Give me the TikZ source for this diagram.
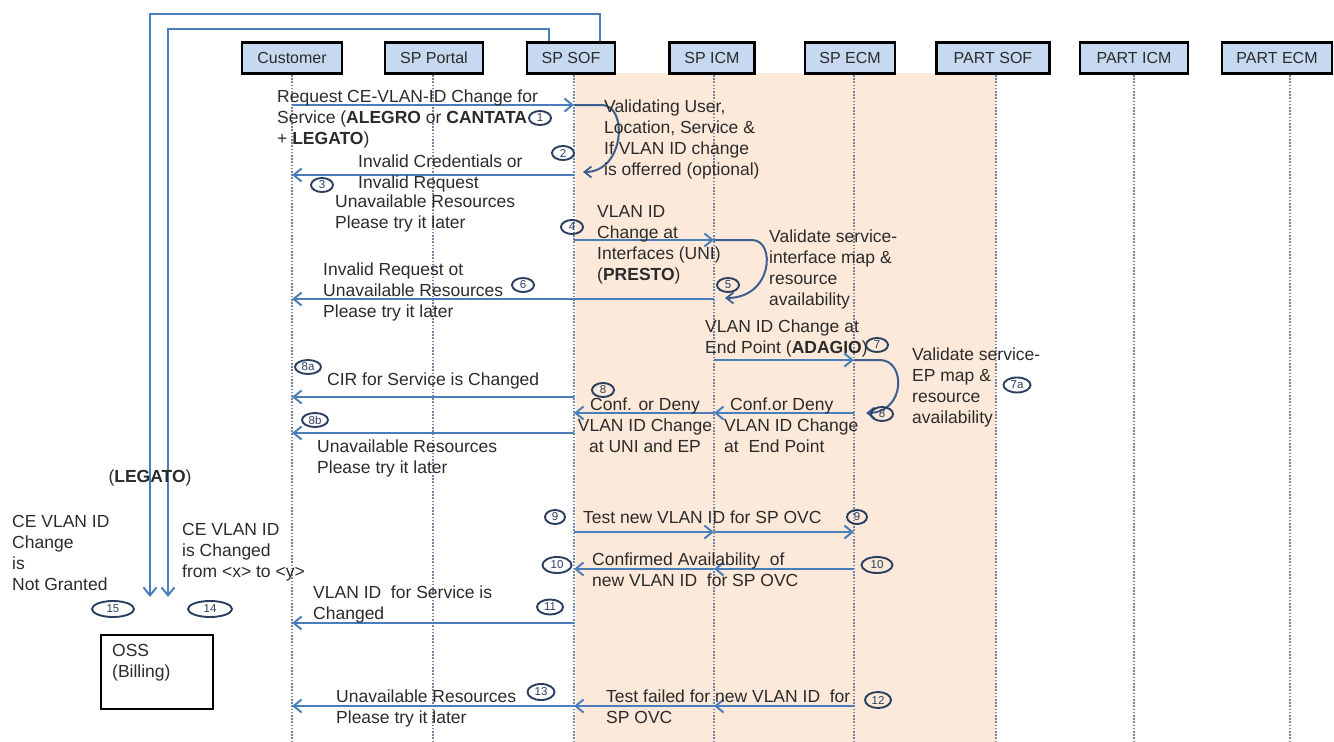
\documentclass[tikz,border=0pt]{standalone}
\usepackage{fontspec}
\setmainfont{Liberation Sans}
\usetikzlibrary{arrows.meta,shapes.geometric}

\definecolor{msgblue}{HTML}{4A7EBB}
\definecolor{loopblue}{HTML}{3D5F8F}
\definecolor{peach}{HTML}{FDE9D9}
\definecolor{boxblue}{HTML}{C6D9F1}
\definecolor{lifegray}{HTML}{7484A0}
\definecolor{ovalink}{HTML}{2A3F5F}
\definecolor{txt}{HTML}{2B2B2B}

\tikzset{
  actor/.style={draw=black, line width=2.8pt, fill=boxblue, minimum height=31pt,
    inner sep=0pt, font=\fontsize{16}{19}\selectfont, text=txt},
  lifeline/.style={draw=lifegray, line width=1.6pt, dash pattern=on 1.6pt off 1.6pt},
  msg/.style={draw=msgblue, line width=2.2pt,
    -{Straight Barb[length=8pt,width=13pt,line width=2pt]}},
  selfloop/.style={draw=loopblue, line width=2pt,
    -{Straight Barb[length=7pt,width=11pt,line width=1.8pt]}},
  lbl/.style={inner sep=0pt, anchor=north west, align=left,
    font=\fontsize{17.5}{21}\selectfont, text=txt},
  tag/.style={ellipse, draw=ovalink, line width=1.9pt, inner sep=0pt,
    font=\fontsize{11.5}{13}\selectfont, text=ovalink},
}

\begin{document}
\begin{tikzpicture}[x=1pt,y=-1pt]
\useasboundingbox (0,0) rectangle (1334,742);

% shaded SP domain
\fill[peach] (576,73) rectangle (996,742);

% participants
\node[actor, minimum width=100pt] (cust)   at (292,58)  {Customer};
\node[actor, minimum width=98pt]  (portal) at (434,58)  {SP Portal};
\node[actor, minimum width=88pt]  (sof)    at (571,58)  {SP SOF};
\node[actor, minimum width=85pt]  (icm)    at (712,58)  {SP ICM};
\node[actor, minimum width=90pt]  (ecm)    at (850,58)  {SP ECM};
\node[actor, minimum width=113pt] (psof)   at (993,58)  {PART SOF};
\node[actor, minimum width=108pt] (picm)   at (1134,58) {PART ICM};
\node[actor, minimum width=110pt] (pecm)   at (1277,58) {PART ECM};

% lifeline heads and page bottom
\coordinate (lcust)   at (292,75);
\coordinate (lportal) at (433,75);
\coordinate (lsof)    at (574,75);
\coordinate (licm)    at (714,75);
\coordinate (lecm)    at (854,75);
\coordinate (lpsof)   at (996,75);
\coordinate (lpicm)   at (1134,75);
\coordinate (lpecm)   at (1290,75);
\coordinate (bot)     at (0,742);

\foreach \l in {lcust,lportal,licm,lecm,lpicm,lpecm}
  \draw[lifeline] (\l) -- (\l |- bot);
\draw[lifeline, line width=2.2pt] (lsof) -- (lsof |- bot);
\draw[lifeline, line width=2.2pt] (lpsof) -- (lpsof |- bot);

% message rows
\coordinate (r1)  at (0,105);
\coordinate (r3)  at (0,175);
\coordinate (r4)  at (0,240);
\coordinate (r6)  at (0,299);
\coordinate (r7)  at (0,360);
\coordinate (r8a) at (0,397);
\coordinate (r8)  at (0,413);
\coordinate (r8b) at (0,433);
\coordinate (r9)  at (0,532);
\coordinate (r10) at (0,569);
\coordinate (r11) at (0,623);
\coordinate (r12) at (0,706);

% messages
\draw[msg] (lcust |- r1) -- (lsof |- r1);
\draw[msg] (lsof |- r3) -- (lcust |- r3);
\draw[msg] (lsof |- r4) -- (licm |- r4);
\draw[msg] (licm |- r6) -- (lcust |- r6);
\draw[msg] (licm |- r7) -- (lecm |- r7);
\draw[msg] (lsof |- r8a) -- (lcust |- r8a);
\draw[msg] (lecm |- r8) -- (licm |- r8);
\draw[msg] (licm |- r8) -- (lsof |- r8);
\draw[msg] (lsof |- r8b) -- (lcust |- r8b);
\draw[msg] (lsof |- r9) -- (licm |- r9);
\draw[msg] (licm |- r9) -- (lecm |- r9);
\draw[msg] (lecm |- r10) -- (licm |- r10);
\draw[msg] (licm |- r10) -- (lsof |- r10);
\draw[msg] (lsof |- r11) -- (lcust |- r11);
\draw[msg] (lecm |- r12) -- (licm |- r12);
\draw[msg] (licm |- r12) -- (lsof |- r12);
\draw[msg] (lsof |- r12) -- (lcust |- r12);

% self checks
\coordinate (l2end) at (583,172);
\coordinate (l5end) at (725,298);
\coordinate (l7end) at (866,413);
\draw[selfloop] (lsof |- r1) -- ++(28,0) .. controls +(26,0) and +(42,0) .. (l2end);
\draw[selfloop] (licm |- r4) -- ++(38,0) .. controls +(24,0) and +(48,0) .. (l5end);
\draw[selfloop] (lecm |- r7) -- ++(26,0) .. controls +(26,0) and +(40,0) .. (l7end);

% billing notifications
\coordinate (k1) at (600,14);
\coordinate (k2) at (150,14);
\coordinate (k3) at (549,29);
\coordinate (k4) at (168,29);
\coordinate (n15) at (150,597);
\coordinate (n14) at (168,597);
\draw[msg, line width=2pt] (sof.north -| k1) -- (k1) -- (k2) -- (n15);
\draw[msg, line width=2pt] (sof.north -| k3) -- (k3) -- (k4) -- (n14);

\node[draw=black, line width=2pt, minimum width=112pt, minimum height=74pt, inner sep=0pt] (oss) at (157,672) {};
\node[lbl] (osstxt) at ([xshift=12pt,yshift=-10pt]oss.north west) {OSS\\(Billing)};

% texts
\node[lbl] (t1) at (277,90) {Request CE-VLAN-ID Change for\\Service (\textbf{ALEGRO} or \textbf{CANTATA}\\+ \textbf{LEGATO})};
\node[lbl] (t2) at (604,100) {Validating User,\\Location, Service \&\\If VLAN ID change\\is offerred (optional)};
\node[lbl] (t3a) at (358,155) {Invalid Credentials or\\Invalid Request};
\node[lbl] (t3b) at (335,195) {Unavailable Resources\\Please try it later};
\node[lbl] (t4) at (597,205) {VLAN ID\\Change at\\Interfaces (UNI)\\(\textbf{PRESTO})};
\node[lbl] (t5) at (769,230) {Validate service-\\interface map \&\\resource\\availability};
\node[lbl] (t6) at (323,263) {Invalid Request ot\\Unavailable Resources\\Please try it later};
\node[lbl] (t7) at (705,320) {VLAN ID Change at\\End Point (\textbf{ADAGIO})};
\node[lbl] (t7a) at (912,348) {Validate service-\\EP map \&\\resource\\availability};
\node[lbl] (t8a) at (327,373) {CIR for Service is Changed};
\node[lbl, align=center, anchor=north] (t8l) at (645,398) {Conf. or Deny\\VLAN ID Change\\at UNI and EP};
\node[lbl] (t8r) at (724,398) {\hspace*{6pt}Conf.or Deny\\VLAN ID Change\\at\ \ End Point};
\node[lbl] (t8b) at (317,440) {Unavailable Resources\\Please try it later};
\node[lbl] (t9) at (583,511) {Test new VLAN ID for SP OVC};
\node[lbl] (t10) at (592,553) {Confirmed Availability\ \ of\\new VLAN ID\ \ for SP OVC};
\node[lbl] (t11) at (313,586) {VLAN ID\ \ for Service is\\Changed};
\node[lbl] (t12) at (606,690) {Test failed for new VLAN ID\ \ for\\SP OVC};
\node[lbl] (t13) at (336,690) {Unavailable Resources\\Please try it later};

\node[lbl, anchor=center] (tleg) at (150,478) {(\textbf{LEGATO})};
\node[lbl] (t15) at (12,515) {CE VLAN ID\\Change\\is\\Not Granted};
\node[lbl] (t14) at (182,523) {CE VLAN ID\\is Changed\\from <x> to <y>};

% step numbers
\node[tag, minimum width=22pt, minimum height=14pt] (e1)  at (540,118) {1};
\node[tag, minimum width=22pt, minimum height=14pt] (e2)  at (563,153) {2};
\node[tag, minimum width=22pt, minimum height=14pt] (e3)  at (322,185) {3};
\node[tag, minimum width=22pt, minimum height=14pt] (e4)  at (572,227) {4};
\node[tag, minimum width=22pt, minimum height=14pt] (e5)  at (728,285) {5};
\node[tag, minimum width=22pt, minimum height=14pt] (e6)  at (523,285) {6};
\node[tag, minimum width=22pt, minimum height=14pt] (e7)  at (877,345) {7};
\node[tag, minimum width=27pt, minimum height=15pt] (e7a) at (1017,385) {7a};
\node[tag, minimum width=26pt, minimum height=14pt] (e8a) at (308,367) {8a};
\node[tag, minimum width=22pt, minimum height=14pt] (e8)  at (603,390) {8};
\node[tag, minimum width=22pt, minimum height=14pt] (e8r) at (882,414) {8};
\node[tag, minimum width=26pt, minimum height=14pt] (e8b) at (315,420) {8b};
\node[tag, minimum width=20pt, minimum height=14pt] (e9l) at (555,517) {9};
\node[tag, minimum width=20pt, minimum height=14pt] (e9r) at (857,517) {9};
\node[tag, minimum width=29pt, minimum height=16pt] (e10l) at (557,565) {10};
\node[tag, minimum width=31pt, minimum height=16pt] (e10r) at (877,565) {10};
\node[tag, minimum width=26pt, minimum height=15pt] (e11) at (550,607) {11};
\node[tag, minimum width=26pt, minimum height=16pt] (e12) at (878,700) {12};
\node[tag, minimum width=27pt, minimum height=16pt] (e13) at (541,692) {13};
\node[tag, minimum width=44pt, minimum height=16pt] (e14) at (210,609) {14};
\node[tag, minimum width=42pt, minimum height=16pt] (e15) at (113,609) {15};
\end{tikzpicture}
\end{document}
